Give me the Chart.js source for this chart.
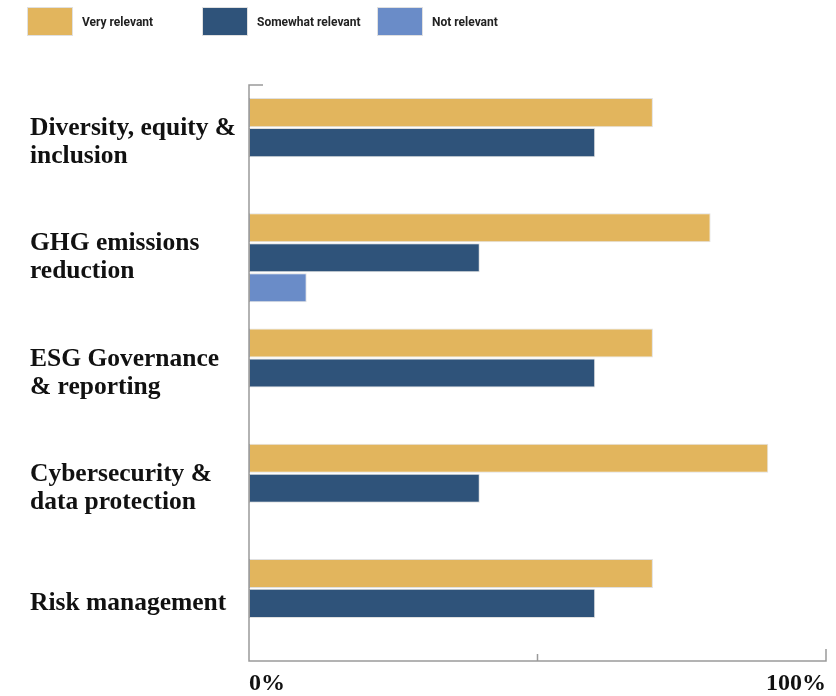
<!DOCTYPE html>
<html>
<head>
<meta charset="utf-8">
<script src="https://cdn.jsdelivr.net/npm/chart.js@4/dist/chart.umd.min.js"></script>
<style>
  html, body { margin: 0; padding: 0; background: #fff; }
  #wrap { position: relative; width: 836px; height: 696px; }
  #chart { display: block; }
  #legend { position: absolute; left: 0; top: 0; width: 836px; height: 45px; }
  .item { position: absolute; top: 8px; height: 27px; display: flex; align-items: center;
          font-family: Roboto, "Open Sans", sans-serif; font-weight: 700; font-size: 12px; color: #222; }
  .swatch { width: 44px; height: 27px; margin-right: 10px; box-shadow: 0 0 0 1px rgba(0,0,0,0.12); }
</style>
</head>
<body>
<div id="wrap">
  <canvas id="chart" width="836" height="696"></canvas>
  <div id="legend"></div>
</div>
<script>
// Topics and share of respondents (%) per answer
const topics = [
    ['Diversity, equity &', 'inclusion'],
    ['GHG emissions', 'reduction'],
    ['ESG Governance', '& reporting'],
    ['Cybersecurity &', 'data protection'],
    'Risk management'
];
const seriesNames = ['Very relevant', 'Somewhat relevant', 'Not relevant'];
const veryRelevant = [70, 80, 70, 90, 70];
const somewhatRelevant = [60, 40, 60, 40, 60];
const notRelevant = [null, 10, null, null, null];
const seriesColors = ['#E2B55D', '#2F537A', '#6A8CC8'];
const axisTicks = { 0: '0%', 100: '100%' };

const serif = '"Liberation Serif", "DejaVu Serif", serif';

// Bracket-style axis: left line with a short cap on top, bottom line with ticks pointing up
const axisFrame = {
    id: 'axisFrame',
    beforeDatasetsDraw(chart) {
        const { ctx, chartArea, scales } = chart;
        const x0 = scales.x.getPixelForValue(0);
        const xMid = scales.x.getPixelForValue(50);
        const xEnd = scales.x.getPixelForValue(100);
        const top = chartArea.top, bottom = chartArea.bottom;
        ctx.save();
        ctx.strokeStyle = '#9a9a9a';
        ctx.lineWidth = 1.5;
        ctx.beginPath();
        ctx.moveTo(x0 + 14, top);
        ctx.lineTo(x0, top);
        ctx.lineTo(x0, bottom);
        ctx.lineTo(xEnd, bottom);
        ctx.lineTo(xEnd, bottom - 12);
        ctx.moveTo(xMid, bottom);
        ctx.lineTo(xMid, bottom - 7);
        ctx.stroke();
        ctx.restore();
    }
};

const datasets = [veryRelevant, somewhatRelevant, notRelevant].map((vals, i) => ({
    label: seriesNames[i],
    data: vals,
    backgroundColor: seriesColors[i],
    borderColor: 'rgba(0,0,0,0.12)',
    borderWidth: 1,
    borderSkipped: false,
    categoryPercentage: 0.78,
    barPercentage: 0.97
}));

const chart = new Chart(document.getElementById('chart'), {
    type: 'bar',
    data: { labels: topics, datasets: datasets },
    options: {
        indexAxis: 'y',
        responsive: false,
        animation: false,
        layout: { padding: { top: 85, left: 30, right: 10, bottom: 0 } },
        plugins: {
            legend: { display: false },
            tooltip: { enabled: false }
        },
        scales: {
            x: {
                min: 0,
                max: 100,
                grid: { display: false },
                border: { display: false },
                afterFit: (scale) => { scale.height = 35; },
                ticks: {
                    stepSize: 50,
                    align: 'inner',
                    padding: 2,
                    color: '#111',
                    font: { family: serif, weight: 'bold', size: 24, lineHeight: 1.1 },
                    callback: (v) => axisTicks[v] || ''
                }
            },
            y: {
                grid: { display: false },
                border: { display: false },
                afterFit: (scale) => { scale.width = 219; },
                ticks: {
                    crossAlign: 'far',
                    color: '#111',
                    font: { family: serif, weight: 'bold', size: 25.5, lineHeight: 1.1 }
                }
            }
        }
    },
    plugins: [axisFrame]
});

// Legend with fixed pitch between entries
const legend = document.getElementById('legend');
seriesNames.forEach((name, i) => {
    const item = document.createElement('div');
    item.className = 'item';
    item.style.left = (28 + i * 175) + 'px';
    item.innerHTML = '<span class="swatch" style="background:' + seriesColors[i] + '"></span>' + name;
    legend.appendChild(item);
});
</script>
</body>
</html>
